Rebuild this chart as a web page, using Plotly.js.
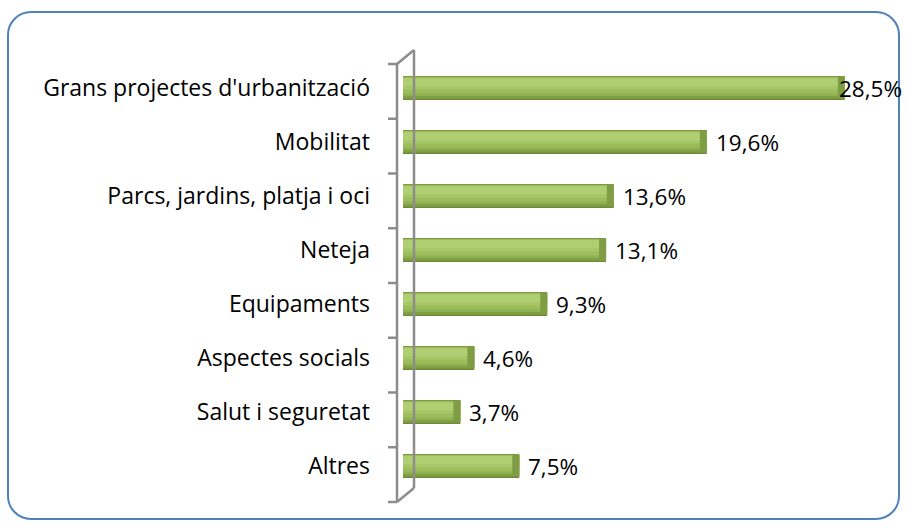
<!DOCTYPE html>
<html><head><meta charset="utf-8">
<script src="https://cdn.plot.ly/plotly-3.0.1.min.js"></script>
<style>
html,body{margin:0;padding:0;background:#fff;}
#wrap{position:relative;width:907px;height:531px;}
#frame{position:absolute;left:7px;top:11px;width:889px;height:505px;border:2.5px solid #4F81BD;border-radius:24px;}
#chart{position:absolute;left:0;top:0;width:907px;height:531px;}
</style></head>
<body><div id="wrap"><div id="frame"></div><div id="chart"></div></div>
<script>
const categories = ["Grans projectes d'urbanització","Mobilitat","Parcs, jardins, platja i oci","Neteja","Equipaments","Aspectes socials","Salut i seguretat","Altres"];
const values = [28.5, 19.6, 13.6, 13.1, 9.3, 4.6, 3.7, 7.5];
const valueLabels = ["28,5%","19,6%","13,6%","13,1%","9,3%","4,6%","3,7%","7,5%"];

const W=907,H=531, ml=403, mr=39, mt=61, mb=38;
const pw=W-ml-mr, ph=H-mt-mb;
const px=X=>(X-ml)/pw, py=Y=>1-(Y-mt)/ph;
const FONT='"Open Sans", Carlito, sans-serif';

function layer(w,off,color){
  return {type:'bar',orientation:'h',y:categories,x:values,width:w,offset:off,
    marker:{color:color,line:{width:0}},hoverinfo:'skip',showlegend:false};
}
const traces=[
  layer(0.44,-0.22,'#6E8A38'),
  layer(0.41,-0.215,'#80A044'),
  layer(0.36,-0.21,'#8FB150'),
  layer(0.30,-0.20,'#9CBD5C'),
  layer(0.22,-0.19,'#A7C768'),
  layer(0.14,-0.175,'#B0CF73')
];
// darker end cap
traces.push({type:'bar',orientation:'h',y:categories,x:values.map(()=>0.45),base:values.map(v=>v-0.45),
  width:0.40,offset:-0.205,marker:{color:'#7F9D45',line:{width:0}},hoverinfo:'skip',showlegend:false});

const annotations = values.map((v,i)=>({x:v,y:categories[i],xref:'x',yref:'y',text:valueLabels[i],
  showarrow:false,xanchor:'left',xshift:(i===0?-8:7),font:{family:FONT,size:22.5,color:'#000'}}));

const grey='#8C8C8C';
const shapes=[
  {type:'line',xref:'paper',yref:'paper',x0:px(397),y0:py(64),x1:px(397),y1:py(502),line:{color:grey,width:2.5}},
  {type:'line',xref:'paper',yref:'paper',x0:px(414),y0:py(50),x1:px(414),y1:py(488),line:{color:grey,width:2.5}},
  {type:'line',xref:'paper',yref:'paper',x0:px(397),y0:py(64),x1:px(414),y1:py(50),line:{color:grey,width:2.5}},
  {type:'line',xref:'paper',yref:'paper',x0:px(397),y0:py(502),x1:px(414),y1:py(488),line:{color:grey,width:2.5}}
];
for(let k=0;k<=8;k++){
  const Y=64+k*54.75;
  shapes.push({type:'line',xref:'paper',yref:'paper',x0:px(388),y0:py(Y),x1:px(397),y1:py(Y),line:{color:grey,width:2.5}});
}
const layout={width:W,height:H,margin:{l:ml,r:mr,t:mt,b:mb},
  paper_bgcolor:'rgba(0,0,0,0)',plot_bgcolor:'rgba(0,0,0,0)',barmode:'overlay',
  xaxis:{range:[0,30],visible:false,fixedrange:true},
  yaxis:{type:'category',range:[7.5,-0.5],showline:false,showgrid:false,zeroline:false,ticks:'',
    ticklabelstandoff:32,tickfont:{family:FONT,size:23,color:'#000'}},
  annotations:annotations,shapes:shapes,showlegend:false};
Plotly.newPlot('chart',traces,layout,{staticPlot:true});
</script></body></html>
